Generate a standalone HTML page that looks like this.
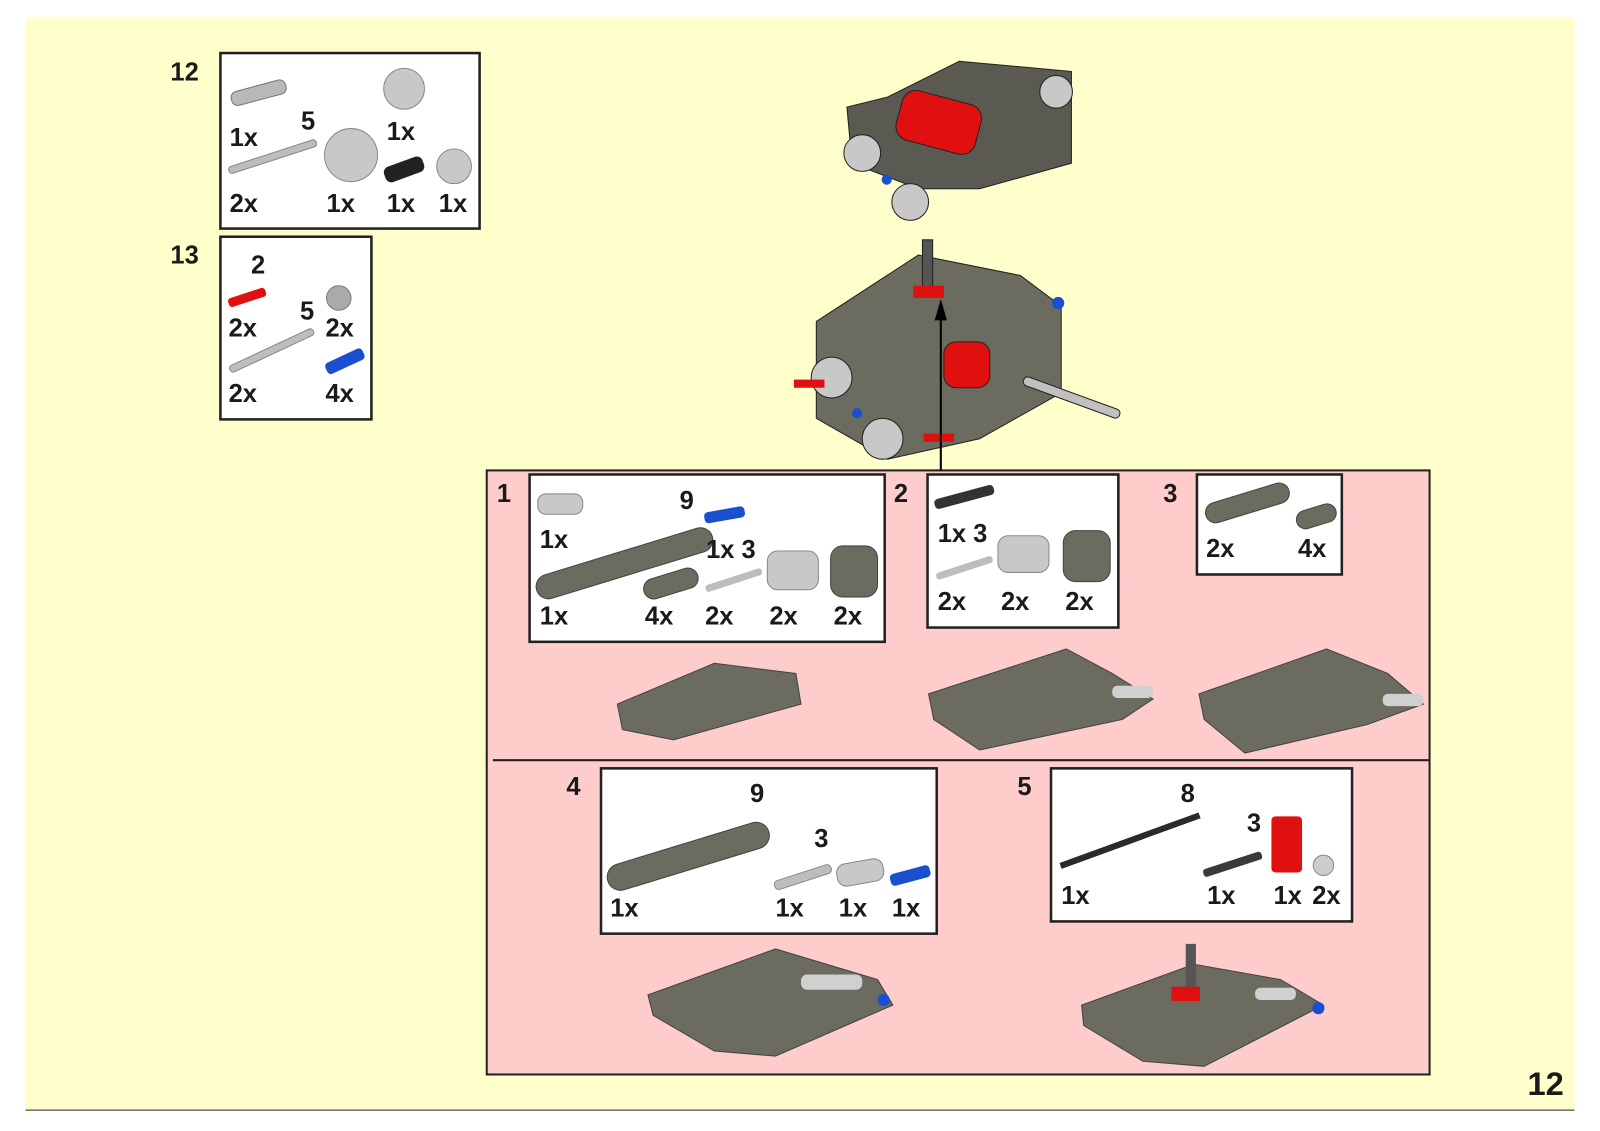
<!DOCTYPE html>
<html><head><meta charset="utf-8"><style>
html,body{margin:0;padding:0;background:#fff;}
svg{display:block}
text{font-family:"Liberation Sans",sans-serif;font-weight:bold;font-size:25px;fill:#1a1a1a}
</style></head><body>
<svg width="1600" height="1131" viewBox="0 0 1600 1131">
<g transform="scale(1.0204)">
<rect x="25" y="17" width="1518" height="1071" fill="#ffffcc"/>
<line x1="25" y1="1088" x2="1543" y2="1088" stroke="#777" stroke-width="1.5"/>
<rect x="477" y="461" width="924" height="592" fill="#ffcccc" stroke="#222" stroke-width="2"/>
<line x1="483" y1="745" x2="1401" y2="745" stroke="#222" stroke-width="2"/>
<g fill="#fff" stroke="#222" stroke-width="2.5">
<rect x="216" y="52" width="254" height="172"/>
<rect x="216" y="232" width="148" height="179"/>
<rect x="519" y="465" width="348" height="164"/>
<rect x="909" y="465" width="187" height="150"/>
<rect x="1173" y="465" width="142" height="98"/>
<rect x="589" y="753" width="329" height="162"/>
<rect x="1030" y="753" width="295" height="150"/>
</g>
<rect x="226" y="84" width="55" height="14" rx="6" fill="#b8b8b8" stroke="#777" transform="rotate(-15 253 91)"/>
<rect x="222" y="150" width="90" height="7" rx="3" fill="#bdbdbd" stroke="#888" transform="rotate(-18 267 153)"/>
<circle cx="396" cy="87" r="20" fill="#c8c8c8" stroke="#888"/>
<circle cx="344" cy="152" r="26" fill="#c8c8c8" stroke="#888"/>
<rect x="376" y="158" width="40" height="16" rx="6" fill="#222" transform="rotate(-20 396 166)"/>
<circle cx="445" cy="163" r="17" fill="#c8c8c8" stroke="#888"/>
<rect x="223" y="287" width="38" height="9" rx="3" fill="#e01010" transform="rotate(-18 242 291)"/>
<circle cx="332" cy="292" r="12" fill="#aaa" stroke="#777"/>
<rect x="221" y="340" width="90" height="7" rx="3" fill="#bdbdbd" stroke="#888" transform="rotate(-25 266 343)"/>
<rect x="318" y="348" width="40" height="12" rx="4" fill="#1a4fd0" transform="rotate(-25 338 354)"/>
<rect x="527" y="484" width="44" height="20" rx="8" fill="#c8c8c8" stroke="#888"/>
<rect x="522" y="540" width="180" height="24" rx="12" fill="#6b6b5f" stroke="#444" transform="rotate(-17 612 552)"/>
<rect x="690" y="499" width="40" height="11" rx="4" fill="#1a4fd0" transform="rotate(-10 710 504)"/>
<rect x="630" y="562" width="55" height="20" rx="10" fill="#6b6b5f" stroke="#444" transform="rotate(-17 657 572)"/>
<rect x="690" y="565" width="58" height="7" rx="3" fill="#bdbdbd" transform="rotate(-18 719 568)"/>
<rect x="752" y="540" width="50" height="38" rx="10" fill="#c8c8c8" stroke="#888"/>
<rect x="814" y="535" width="46" height="50" rx="12" fill="#6b6b5f" stroke="#444"/>
<rect x="915" y="482" width="60" height="10" rx="4" fill="#333" transform="rotate(-15 945 487)"/>
<rect x="916" y="553" width="58" height="7" rx="3" fill="#bdbdbd" transform="rotate(-18 945 556)"/>
<rect x="978" y="525" width="50" height="36" rx="10" fill="#c8c8c8" stroke="#888"/>
<rect x="1042" y="520" width="46" height="50" rx="12" fill="#6b6b5f" stroke="#444"/>
<rect x="1180" y="483" width="85" height="20" rx="10" fill="#6b6b5f" stroke="#444" transform="rotate(-17 1222 493)"/>
<rect x="1270" y="497" width="40" height="18" rx="9" fill="#6b6b5f" stroke="#444" transform="rotate(-17 1290 506)"/>
<rect x="592" y="826" width="165" height="26" rx="13" fill="#6b6b5f" stroke="#444" transform="rotate(-17 675 839)"/>
<rect x="758" y="855" width="58" height="9" rx="4" fill="#bdbdbd" stroke="#888" transform="rotate(-18 787 860)"/>
<rect x="820" y="844" width="46" height="22" rx="9" fill="#c8c8c8" stroke="#888" transform="rotate(-10 843 855)"/>
<rect x="872" y="852" width="40" height="12" rx="4" fill="#1a4fd0" transform="rotate(-15 892 858)"/>
<rect x="1035" y="821" width="145" height="6" fill="#2a2a2a" transform="rotate(-20 1107 824)"/>
<rect x="1178" y="843" width="60" height="8" rx="3" fill="#3a3a3a" transform="rotate(-18 1208 847)"/>
<rect x="1246" y="800" width="30" height="55" rx="4" fill="#e01010"/>
<circle cx="1297" cy="848" r="10" fill="#ccc" stroke="#888"/>
<g fill="#6b6b5f" stroke="#444">
<path d="M605 690 L700 650 L780 660 L785 690 L660 725 L610 715 Z"/>
<path d="M910 680 L1045 636 L1090 660 L1130 685 L1100 705 L960 735 L915 705 Z"/>
<path d="M1175 680 L1300 636 L1360 660 L1395 690 L1340 710 L1220 738 L1180 705 Z"/>
<path d="M635 975 L760 930 L860 960 L875 985 L760 1035 L700 1030 L640 995 Z"/>
<path d="M1060 985 L1170 945 L1255 960 L1297 985 L1180 1045 L1120 1040 L1062 1005 Z"/>
</g>
<g fill="#d0d0d0">
<rect x="1090" y="672" width="40" height="12" rx="5"/><rect x="1355" y="680" width="40" height="12" rx="5"/>
<rect x="785" y="955" width="60" height="15" rx="6"/><rect x="1230" y="968" width="40" height="12" rx="5"/>
</g>
<rect x="1162" y="925" width="10" height="45" fill="#555"/>
<rect x="1148" y="967" width="28" height="14" fill="#e01010"/>
<circle cx="866" cy="980" r="6" fill="#1a4fd0"/><circle cx="1292" cy="988" r="6" fill="#1a4fd0"/>
<g stroke="#222">
<path d="M830 105 L870 95 L940 60 L1050 70 L1050 160 L960 185 L900 185 L835 160 Z" fill="#5a5a52"/>
<rect x="880" y="95" width="80" height="50" rx="14" fill="#e01010" transform="rotate(15 920 120)"/>
<circle cx="845" cy="150" r="18" fill="#c8c8c8"/><circle cx="892" cy="198" r="18" fill="#c8c8c8"/>
<circle cx="1035" cy="90" r="16" fill="#c8c8c8"/>
<path d="M800 315 L900 250 L1000 270 L1040 300 L1040 385 L960 430 L870 450 L800 410 Z" fill="#6b6b5f"/>
<rect x="925" y="335" width="45" height="45" rx="12" fill="#e01010"/>
<circle cx="815" cy="370" r="20" fill="#c8c8c8"/><circle cx="865" cy="430" r="20" fill="#c8c8c8"/>
<rect x="1000" y="385" width="100" height="9" rx="4" fill="#c0c0c0" transform="rotate(20 1050 390)"/>
<rect x="904" y="235" width="10" height="50" fill="#555"/>
<rect x="895" y="280" width="30" height="12" fill="#e01010" stroke="none"/>
<rect x="778" y="372" width="30" height="8" fill="#e01010" stroke="none"/>
<rect x="905" y="425" width="30" height="8" fill="#e01010" stroke="none"/>
</g>
<circle cx="869" cy="176" r="5" fill="#1a4fd0"/><circle cx="1037" cy="297" r="6" fill="#1a4fd0"/><circle cx="840" cy="405" r="5" fill="#1a4fd0"/>
<line x1="922" y1="461" x2="922" y2="310" stroke="#000" stroke-width="2"/>
<polygon points="922,293 916,314 928,314" fill="#000"/>
<text x="167" y="79">12</text>
<text x="225" y="143">1x</text><text x="295" y="127">5</text><text x="379" y="137">1x</text>
<text x="225" y="208">2x</text><text x="320" y="208">1x</text><text x="379" y="208">1x</text><text x="430" y="208">1x</text>
<text x="167" y="258">13</text>
<text x="246" y="268">2</text><text x="224" y="330">2x</text><text x="294" y="313">5</text><text x="319" y="330">2x</text>
<text x="224" y="394">2x</text><text x="319" y="394">4x</text>
<text x="487" y="492">1</text><text x="666" y="499">9</text><text x="529" y="537">1x</text><text x="692" y="547">1x 3</text>
<text x="529" y="612">1x</text><text x="632" y="612">4x</text><text x="691" y="612">2x</text><text x="754" y="612">2x</text><text x="817" y="612">2x</text>
<text x="876" y="492">2</text><text x="919" y="531">1x 3</text>
<text x="919" y="598">2x</text><text x="981" y="598">2x</text><text x="1044" y="598">2x</text>
<text x="1140" y="492">3</text><text x="1182" y="546">2x</text><text x="1272" y="546">4x</text>
<text x="555" y="779">4</text><text x="735" y="786">9</text><text x="798" y="830">3</text>
<text x="598" y="898">1x</text><text x="760" y="898">1x</text><text x="822" y="898">1x</text><text x="874" y="898">1x</text>
<text x="997" y="779">5</text><text x="1157" y="786">8</text><text x="1222" y="815">3</text>
<text x="1040" y="886">1x</text><text x="1183" y="886">1x</text><text x="1248" y="886">1x</text><text x="1286" y="886">2x</text>
<text x="1497" y="1073" style="font-size:32px">12</text>
</g>
</svg>
</body></html>
